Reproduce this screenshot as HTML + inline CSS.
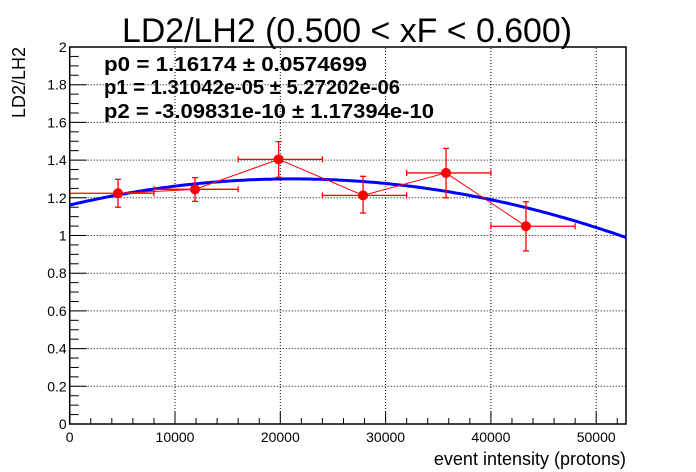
<!DOCTYPE html>
<html><head><meta charset="utf-8"><style>
html,body{margin:0;padding:0;background:#fff;}
svg{display:block;font-family:"Liberation Sans",Arial,sans-serif;}
</style></head><body>
<svg id="chart" width="696" height="472" viewBox="0 0 696 472">
<g id="grid"></g>
<g id="axes"></g>
<g id="fit"></g>
<g id="pts"></g>
<text x="347" y="42" text-anchor="middle" font-size="34" textLength="450" lengthAdjust="spacingAndGlyphs">LD2/LH2 (0.500 &lt; xF &lt; 0.600)</text>
<g font-weight="bold" font-size="20">
<text x="104" y="71" textLength="263" lengthAdjust="spacingAndGlyphs">p0 = 1.16174 ± 0.0574699</text>
<text x="104" y="94" textLength="296" lengthAdjust="spacingAndGlyphs">p1 = 1.31042e-05 ± 5.27202e-06</text>
<text x="104" y="118" textLength="330" lengthAdjust="spacingAndGlyphs">p2 = -3.09831e-10 ± 1.17394e-10</text>
</g>
<text x="626" y="465" text-anchor="end" font-size="18">event intensity (protons)</text>
<text transform="translate(25,47) rotate(-90)" text-anchor="end" font-size="18">LD2/LH2</text>
</svg>
<script>
const xVals=[4590,11900,19840,27860,35740,43330];
const yVals=[1.224,1.245,1.404,1.213,1.332,1.049];
const yErrHi=[1.298,1.307,1.498,1.314,1.462,1.179];
const yErrLo=[1.150,1.181,1.309,1.119,1.200,0.918];
const xErrLo=[0,8000,16000,24000,32000,40000];
const xErrHi=[8000,16000,24000,32000,40000,48000];
const fitParams=[1.16174,1.31042e-05,-3.09831e-10];
const xTicks=[0,10000,20000,30000,40000,50000];
const xTickLabels=["0","10000","20000","30000","40000","50000"];
const yTicks=[0,0.2,0.4,0.6,0.8,1,1.2,1.4,1.6,1.8,2];
const yTickLabels=["0","0.2","0.4","0.6","0.8","1","1.2","1.4","1.6","1.8","2"];
const X0=69.7,X1=626,Y0=424,Y1=47,XMAX=52830,YMAX=2;
const sx=v=>X0+(v/XMAX)*(X1-X0);
const sy=v=>Y0-(v/YMAX)*(Y0-Y1);
const NS="http://www.w3.org/2000/svg";
function mk(tag,attrs,parent){const e=document.createElementNS(NS,tag);for(const k in attrs)e.setAttribute(k,attrs[k]);parent.appendChild(e);return e;}
const grid=document.getElementById('grid'),axes=document.getElementById('axes'),fit=document.getElementById('fit'),pts=document.getElementById('pts');
xTicks.forEach((t,i)=>{
 if(t>0){const g=mk('line',{x1:sx(t),x2:sx(t),y1:Y0,y2:Y1,stroke:'#000','stroke-width':1,'stroke-dasharray':'1,2'},grid);
 }
 const l=mk('line',{x1:sx(t),x2:sx(t),y1:Y0,y2:Y0-12,stroke:'#000','stroke-width':1},axes);
 
 const tx=mk('text',{x:sx(t),y:Y0+18,'text-anchor':'middle','font-size':14},axes);tx.textContent=xTickLabels[i];
 
});
for(let v=2000;v<XMAX;v+=2000){if(v%10000===0)continue;
 const l=mk('line',{x1:sx(v),x2:sx(v),y1:Y0,y2:Y0-6,stroke:'#000','stroke-width':1},axes);
 }
yTicks.forEach((t,i)=>{
 if(t>0&&t<2){const g=mk('line',{x1:X0,x2:X1,y1:sy(t),y2:sy(t),stroke:'#000','stroke-width':1,'stroke-dasharray':'1,2'},grid);
 }
 const l=mk('line',{x1:X0,x2:X0+17,y1:sy(t),y2:sy(t),stroke:'#000','stroke-width':1},axes);
 
 const tx=mk('text',{x:X0-3,y:sy(t)+5,'text-anchor':'end','font-size':14},axes);tx.textContent=yTickLabels[i];
 
});
for(let k=1;k<40;k++){if(k%4===0)continue;const v=k*0.05;
 const l=mk('line',{x1:X0,x2:X0+9,y1:sy(v),y2:sy(v),stroke:'#000','stroke-width':1},axes);
 }
const fr=mk('rect',{x:X0,y:Y1,width:X1-X0,height:Y0-Y1,fill:'none',stroke:'#000','stroke-width':1.5},axes);

let d='';for(let i=0;i<=200;i++){const x=XMAX*i/200;const y=fitParams[0]+fitParams[1]*x+fitParams[2]*x*x;d+=(i?'L':'M')+sx(x).toFixed(1)+','+sy(y).toFixed(1);}
const fp=mk('path',{d:d,fill:'none',stroke:'#0000ff','stroke-width':3},fit);

const pl=mk('polyline',{points:xVals.map((x,i)=>sx(x)+','+sy(yVals[i])).join(' '),fill:'none',stroke:'#ff0000','stroke-width':1},pts);

xVals.forEach((x,i)=>{
 const g=mk('g',{stroke:'#ff0000','stroke-width':1.3},pts);
 
 const px=sx(x),py=sy(yVals[i]),xl=Math.max(X0,sx(xErrLo[i])),xh=sx(xErrHi[i]),yh=sy(yErrHi[i]),yl=sy(yErrLo[i]);
 mk('line',{x1:xl,x2:xh,y1:py,y2:py},g);
 mk('line',{x1:px,x2:px,y1:yh,y2:yl},g);
 mk('line',{x1:px-3,x2:px+3,y1:yh,y2:yh},g);
 mk('line',{x1:px-3,x2:px+3,y1:yl,y2:yl},g);
 if(xErrLo[i]>0)mk('line',{x1:xl,x2:xl,y1:py-3,y2:py+3},g);
 mk('line',{x1:xh,x2:xh,y1:py-3,y2:py+3},g);
 mk('circle',{cx:px,cy:py,r:5,fill:'#ff0000',stroke:'none'},g);
});
</script>
</body></html>
